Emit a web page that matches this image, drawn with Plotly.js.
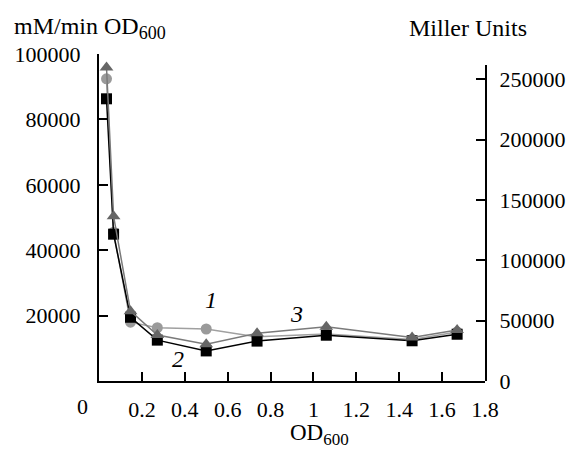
<!DOCTYPE html>
<html><head><meta charset="utf-8">
<script src="https://cdn.plot.ly/plotly-3.0.1.min.js"></script>
<style>body{margin:0;background:#fff}#c{width:575px;height:450px}</style>
</head><body><div id="c"></div>
<script>
// OD600 sample points
const od = [0.035, 0.068, 0.147, 0.272, 0.50, 0.737, 1.06, 1.46, 1.67];
// Series 1 (grey circles), mM/min OD600
const s1 = [92400, 45500, 18000, 16300, 15900, 13500, 14400, 12700, 15000];
// Series 2 (black squares), mM/min OD600
const s2 = [86300, 44900, 19500, 12500, 9200, 12200, 14000, 12300, 14300];
// Series 3 (dark grey triangles), Miller Units
const s3 = [259900, 136600, 57900, 38100, 30500, 39500, 44900, 36100, 42200];

const xTicks = [0.2, 0.4, 0.6, 0.8, 1.0, 1.2, 1.4, 1.6, 1.8];
const xTickText = ["0.2", "0.4", "0.6", "0.8", "1", "1.2", "1.4", "1.6", "1.8"];
const yTicks = [20000, 40000, 60000, 80000, 100000];
const y2Ticks = [50000, 100000, 150000, 200000, 250000, 0];

const F = '"Liberation Serif", "Times New Roman", serif';
const fnt = {family: F, size: 22, color: "#000"};
const tfnt = {family: F, size: 24, color: "#000"};
const bfnt = {family: F, size: 23, color: "#000"};

const traces = [
  {x: od, y: s1, mode: "lines+markers", line: {color: "#a0a0a0", width: 1.5},
   marker: {symbol: "circle", size: 11, color: "#9a9a9a"}, cliponaxis: false},
  {x: od, y: s3, yaxis: "y2", mode: "lines+markers", line: {color: "#7a7a7a", width: 1.5},
   marker: {symbol: "triangle-up", size: 12, color: "#666666"}, cliponaxis: false},
  {x: od, y: s2, mode: "lines+markers", line: {color: "#000", width: 1.5},
   marker: {symbol: "square", size: 11, color: "#000"}, cliponaxis: false}
];

const sub = '<sub><span style="font-size:18px">600</span></sub>';
const subB = '<sub><span style="font-size:17px">600</span></sub>';

const layout = {
  width: 575, height: 450,
  margin: {l: 98.5, r: 90, t: 53.5, b: 69},
  paper_bgcolor: "#fff", plot_bgcolor: "rgba(0,0,0,0)",
  showlegend: false,
  font: fnt,
  xaxis: {range: [0, 1.8], tickvals: xTicks, ticktext: xTickText, ticks: "inside",
    ticklen: 9, tickwidth: 2, tickcolor: "#000", showline: true, linewidth: 2, linecolor: "#000",
    showgrid: false, zeroline: false, tickfont: fnt, anchor: "y", ticklabelstandoff: 8},
  yaxis: {range: [0, 100000], tickvals: yTicks, ticks: "inside", ticklen: 9, tickwidth: 2,
    tickcolor: "#000", showline: true, linewidth: 2, linecolor: "#000", showgrid: false,
    zeroline: false, tickfont: fnt, tickformat: "d", ticklabelstandoff: 12},
  yaxis2: {domain: [0, 0.965], anchor: "x", side: "right", range: [0, 261600], tickvals: y2Ticks,
    ticks: "inside", ticklen: 9, tickwidth: 2, tickcolor: "#000", showline: true, linewidth: 2,
    linecolor: "#000", showgrid: false, zeroline: false, tickfont: fnt, tickformat: "d",
    ticklabelstandoff: 8},
  annotations: [
    {text: "mM/min OD" + sub, xref: "paper", yref: "paper", x: -0.225, y: 1.08,
     xanchor: "left", yanchor: "middle", showarrow: false, font: tfnt},
    {text: "Miller Units", xref: "paper", yref: "paper", x: 1.115, y: 1.08,
     xanchor: "right", yanchor: "middle", showarrow: false, font: tfnt},
    {text: "OD" + subB, xref: "paper", yref: "paper", x: 0.57, y: -0.165,
     xanchor: "center", yanchor: "middle", showarrow: false, font: bfnt},
    {text: "0", xref: "paper", yref: "paper", x: -0.043, y: -0.035,
     xanchor: "center", yanchor: "top", showarrow: false, font: fnt},
    {text: "<i>1</i>", xref: "x", yref: "y", x: 0.52, y: 24800, showarrow: false, font: tfnt},
    {text: "<i>2</i>", xref: "x", yref: "y", x: 0.37, y: 6800, showarrow: false, font: tfnt},
    {text: "<i>3</i>", xref: "x", yref: "y", x: 0.92, y: 20500, showarrow: false, font: tfnt}
  ]
};
Plotly.newPlot("c", traces, layout, {displayModeBar: false, staticPlot: true});
</script></body></html>
